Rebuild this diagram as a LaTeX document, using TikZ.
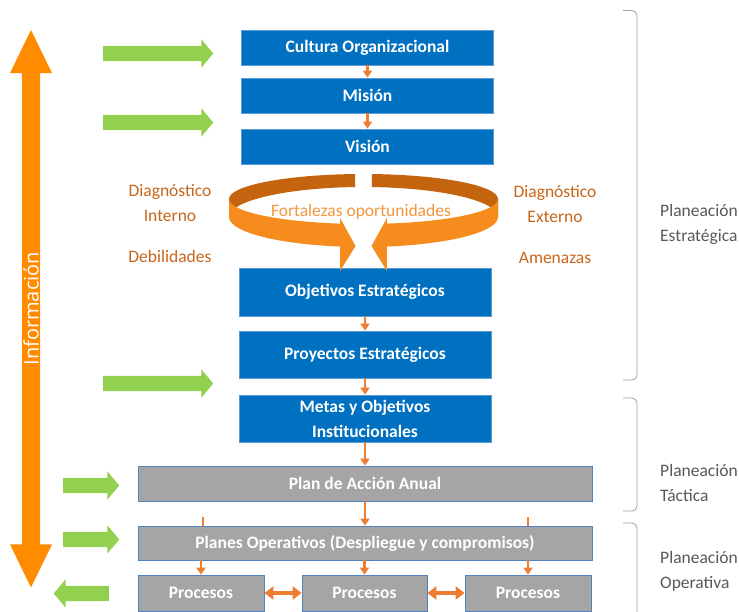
\documentclass[tikz,border=0pt]{standalone}
\usepackage{fontspec}
\setmainfont{Carlito}
\newfontfamily\infofont{Open Sans}
\usetikzlibrary{shapes.arrows,arrows.meta}
\definecolor{boxblue}{RGB}{0,112,192}
\definecolor{boxedge}{RGB}{91,155,213}
\definecolor{grayedge}{RGB}{84,130,190}
\definecolor{boxgray}{RGB}{165,165,165}
\definecolor{linkorange}{RGB}{237,125,49}
\definecolor{infoorange}{RGB}{255,140,0}
\definecolor{arrowgreen}{RGB}{146,208,80}
\definecolor{diagtext}{RGB}{200,102,26}
\definecolor{swottext}{RGB}{243,150,60}
\definecolor{ringback}{RGB}{196,100,14}
\definecolor{ringfront}{RGB}{247,140,30}
\definecolor{bracegray}{RGB}{160,160,160}
\definecolor{leveltext}{RGB}{89,89,89}

\tikzset{
  bluebox/.style={draw=boxedge, line width=0.8pt, fill=boxblue, text=white,
    font=\fontsize{17.5}{25}\selectfont\bfseries, align=center, inner sep=0pt,
    minimum width=252pt, minimum height=35pt},
  graybox/.style={bluebox, draw=grayedge, fill=boxgray},
  link/.style={draw=linkorange, line width=2.2pt, -{Triangle[length=7pt,width=9pt]}},
  tick/.style={draw=linkorange, line width=2.2pt},
  biarrow/.style={draw=linkorange, line width=3.5pt,
    {Triangle[length=9pt,width=13pt]}-{Triangle[length=9pt,width=13pt]}},
  garrow/.style={single arrow, fill=arrowgreen, draw=none, inner xsep=0pt, inner ysep=7.5pt,
    minimum width=28pt, single arrow head extend=6.5pt, single arrow tip angle=100},
  diag/.style={text=diagtext, font=\fontsize{17.5}{25}\selectfont, align=center},
  level/.style={text=leveltext, font=\fontsize{17.5}{25}\selectfont, align=left,
    anchor=west, inner sep=0pt},
  brace/.style={draw=bracegray, line width=0.8pt, rounded corners=5pt}
}

\begin{document}
\begin{tikzpicture}[x=1pt,y=1pt]
  \path[fill=white,use as bounding box] (0,0) rectangle (739,611);

  % information arrow
  \node[double arrow, rotate=90, fill=infoorange, inner sep=0pt,
    minimum height=557.5pt, minimum width=42pt, double arrow head extend=10.5pt,
    double arrow tip angle=52, text=white, font=\infofont\fontsize{20}{24}\selectfont]
    (info) at (31,302.25) {Información};

  % green arrows
  \node[garrow, minimum height=110pt] (g1) at (155,557.5) {};
  \node[garrow, minimum height=110pt] (g2) at (155,488.5) {};
  \node[garrow, minimum height=110pt] (g3) at (155,227.5) {};
  \node[garrow, minimum height=56pt] (g4) at (88,125.5) {};
  \node[garrow, minimum height=56pt] (g5) at (88,71.5) {};
  \node[garrow, minimum height=55pt, shape border rotate=180] (g6) at (84.5,17.5) {};

  % boxes
  \node[bluebox] (cultura) at (367.5,563.5) {Cultura Organizacional};
  \node[bluebox] (mision) at (367.5,515.5) {Misión};
  \node[bluebox] (vision) at (367.5,464.5) {Visión};
  \node[bluebox, minimum height=48pt] (objetivos) at (365,319) {Objetivos Estratégicos};
  \node[bluebox, minimum height=47pt] (proyectos) at (365,256.5) {Proyectos Estratégicos};
  \node[bluebox, minimum height=47pt] (metas) at (365,192.5) {Metas y Objetivos\\Institucionales};
  \node[graybox, minimum width=454pt] (plan) at (365,127.5) {Plan de Acción Anual};
  \node[graybox, minimum width=454pt, minimum height=34pt] (planes) at (365,68)
    {Planes Operativos (Despliegue y compromisos)};
  \node[graybox, minimum width=126pt, minimum height=36pt] (proc1) at (201,18) {Procesos};
  \node[graybox, minimum width=125pt, minimum height=36pt] (proc2) at (364.5,18) {Procesos};
  \node[graybox, minimum width=126pt, minimum height=36pt] (proc3) at (528,18) {Procesos};

  % ring between vision and objetivos
  \fill[ringback] ([shift={(363.5,412)}]93.6:134.5 and 25)
    arc[start angle=93.6,end angle=180,x radius=134.5,y radius=25]
    -- ([shift={(363.5,394)}]180:134.5 and 30)
    arc[start angle=180,end angle=93.6,x radius=134.5,y radius=30] -- cycle;
  \fill[ringback] ([shift={(363.5,412)}]86.4:134.5 and 25)
    arc[start angle=86.4,end angle=0,x radius=134.5,y radius=25]
    -- ([shift={(363.5,394)}]0:134.5 and 30)
    arc[start angle=0,end angle=86.4,x radius=134.5,y radius=30] -- cycle;
  \fill[ringfront] ([shift={(363.5,412)}]180:134.5 and 25)
    arc[start angle=180,end angle=260,x radius=134.5,y radius=25]
    -- ++(0,5.5) -- (355.5,365) -- (340.1,340)
    -- ([shift={(363.5,394)}]260:134.5 and 30)
    arc[start angle=260,end angle=180,x radius=134.5,y radius=30] -- cycle;
  \fill[ringfront] ([shift={(363.5,412)}]360:134.5 and 25)
    arc[start angle=360,end angle=280,x radius=134.5,y radius=25]
    -- ++(0,5.5) -- (371.5,365) -- (386.9,340)
    -- ([shift={(363.5,394)}]280:134.5 and 30)
    arc[start angle=280,end angle=360,x radius=134.5,y radius=30] -- cycle;
  \node[text=swottext, font=\fontsize{17.5}{25}\selectfont] (fo) at (361,399)
    {Fortalezas oportunidades};

  % diagnostico labels
  \node[diag] (dint) at (170,407.5) {Diagnóstico\\Interno};
  \node[diag] (deb) at (170,355) {Debilidades};
  \node[diag] (dext) at (555,406.5) {Diagnóstico\\Externo};
  \node[diag] (amen) at (555,353.5) {Amenazas};

  % connectors
  \draw[link] (cultura) -- (mision);
  \draw[link] (mision) -- (vision);
  \draw[link] (objetivos) -- (proyectos);
  \draw[link] (proyectos) -- (metas);
  \draw[link] (metas) -- (plan);
  \draw[link] (plan) -- (planes);
  \coordinate (tk1) at (203,94.5);
  \coordinate (tk2) at (528,94.5);
  \draw[tick] (tk1) -- (tk1 |- planes.north);
  \draw[tick] (tk2) -- (tk2 |- planes.north);
  \draw[link] (planes.south -| proc1.north) -- (proc1.north);
  \draw[link] (planes.south -| proc2.north) -- (proc2.north);
  \draw[link] (planes.south -| proc3.north) -- (proc3.north);
  \draw[biarrow] (proc1) -- (proc2);
  \draw[biarrow] (proc2) -- (proc3);

  % levels
  \draw[brace] (623,600.5) -- (637,600.5) -- (637,231) -- (623,231);
  \draw[brace] (623,213) -- (637,213) -- (637,100) -- (623,100);
  \draw[brace] (623,88) -- (637,88) -- (637,-6);
  \node[level] (est) at (660,386.5) {Planeación\\Estratégica};
  \node[level] (tac) at (660,128) {Planeación\\Táctica};
  \node[level] (ope) at (660,40) {Planeación\\Operativa};
\end{tikzpicture}
\end{document}
